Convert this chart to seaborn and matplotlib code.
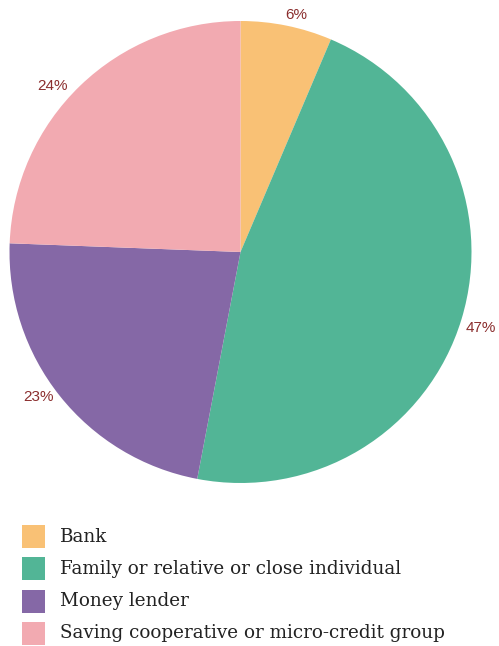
import matplotlib
matplotlib.use("Agg")
import matplotlib.pyplot as plt
from matplotlib.patches import Rectangle
import seaborn as sns

categories = ["Bank", "Family or relative or close individual", "Money lender",
              "Saving cooperative or micro-credit group"]
values = [6.4, 46.6, 22.6, 24.4]
colors_hex = ["#F9C175", "#52B596", "#8568A6", "#F2AAB1"]
# small label nudges (pixels, x right / y down)
label_nudge = [(5, 10), (-1, 3), (-5, -12), (-13, 15)]

sns.set_style("white")
plt.rcParams['font.family'] = ['Liberation Sans', 'DejaVu Sans']
palette = sns.color_palette(colors_hex)

W, H = 499, 646
fig = plt.figure(figsize=(W / 100, H / 100), dpi=100)
cx, cy, R = 240.5, 252, 231
ax = fig.add_axes([(cx - R) / W, (H - cy - R) / H, 2 * R / W, 2 * R / H])
wedges, texts, autotexts = ax.pie(
    values, colors=palette, startangle=90, counterclock=False, radius=1,
    autopct='%.0f%%', pctdistance=1.09,
    textprops=dict(color="#8B2E2E", fontsize=11),
    wedgeprops=dict(linewidth=0))
for t, (dx, dy) in zip(autotexts, label_nudge):
    x, y = t.get_position()
    t.set_position((x + dx / R, y - dy / R))
ax.set_xlim(-1, 1)
ax.set_ylim(-1, 1)
ax.set_aspect('equal')
ax.axis('off')

# legend drawn in figure pixel coordinates
row_top = 525
pitch = 32.3
box = 23
for i, (lab, col) in enumerate(zip(categories, palette)):
    top = row_top + i * pitch
    fig.patches.append(Rectangle((22 / W, 1 - (top + box) / H), box / W, box / H,
                                 transform=fig.transFigure, facecolor=col,
                                 edgecolor='none'))
    fig.text(60 / W, 1 - (top + box / 2) / H, lab, ha='left', va='center',
             family='DejaVu Serif', fontsize=13.2, color='#222222')

fig.savefig("out.png", dpi=100)
